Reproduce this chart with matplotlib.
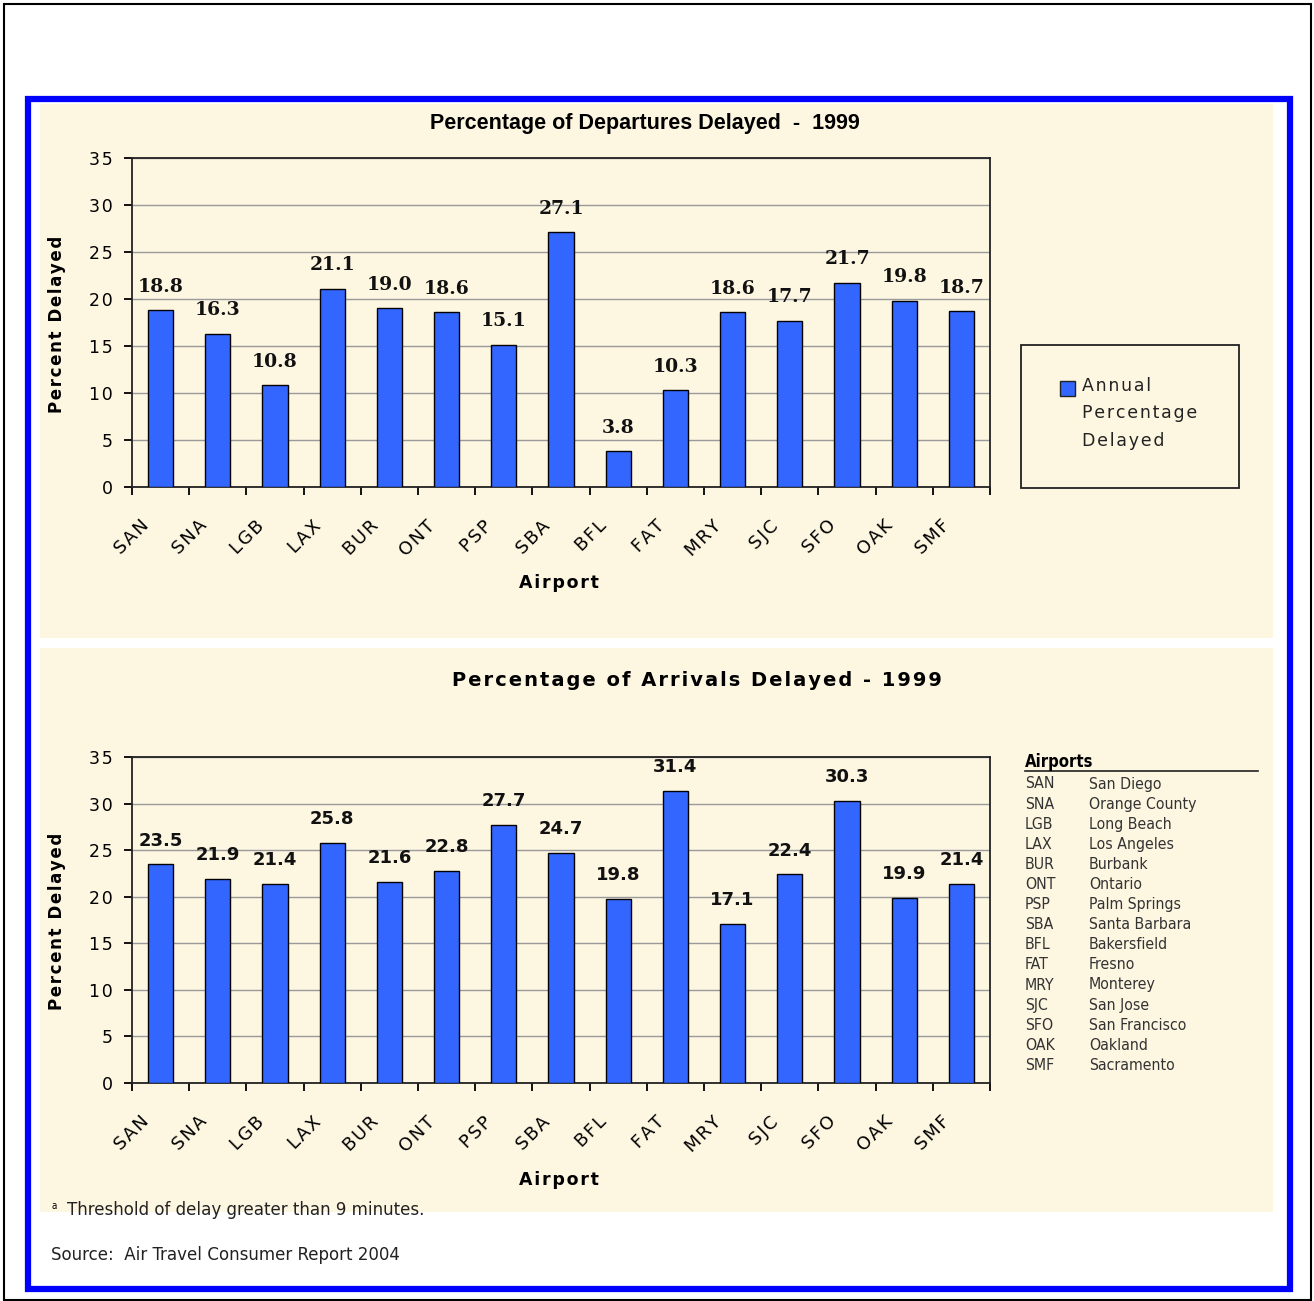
import matplotlib
matplotlib.use("Agg")
import matplotlib.pyplot as plt
from matplotlib.patches import Rectangle
from matplotlib.lines import Line2D
from matplotlib.transforms import ScaledTranslation
import numpy as np

# ---------------- data ----------------
airports = ["SAN", "SNA", "LGB", "LAX", "BUR", "ONT", "PSP", "SBA",
            "BFL", "FAT", "MRY", "SJC", "SFO", "OAK", "SMF"]
airport_names = ["San Diego", "Orange County", "Long Beach", "Los Angeles",
                 "Burbank", "Ontario", "Palm Springs", "Santa Barbara",
                 "Bakersfield", "Fresno", "Monterey", "San Jose",
                 "San Francisco", "Oakland", "Sacramento"]
departures_delayed = [18.8, 16.3, 10.8, 21.1, 19.0, 18.6, 15.1, 27.1,
                      3.8, 10.3, 18.6, 17.7, 21.7, 19.8, 18.7]
arrivals_delayed = [23.5, 21.9, 21.4, 25.8, 21.6, 22.8, 27.7, 24.7,
                    19.8, 31.4, 17.1, 22.4, 30.3, 19.9, 21.4]
y_ticks = [0, 5, 10, 15, 20, 25, 30, 35]

# ---------------- layout helpers ----------------
W, H = 1314, 1301
DPI = 100
fig = plt.figure(figsize=(W / DPI, H / DPI), dpi=DPI)
fig.patch.set_facecolor("white")

CREAM = "#FDF6E1"
BAR = "#3366FF"
BLUE = "#0000FF"
HS = "\u200a"  # hair space for letter spacing


def sp(s):
    return HS.join(s)


def fx(px):
    return px / W


def fy(py):
    return 1 - py / H


def frect(x0, y0, x1, y1, **kw):
    r = Rectangle((fx(x0), fy(y1)), fx(x1) - fx(x0), fy(y0) - fy(y1),
                  transform=fig.transFigure, **kw)
    fig.patches.append(r)
    return r


# outer black frame
frect(4, 4, 1311, 1300, facecolor="none", edgecolor="black", linewidth=1.5, zorder=-3)
# blue frame
frect(28, 99, 1290, 1289, facecolor="white", edgecolor=BLUE, linewidth=4.5, zorder=-3)
# cream panels
frect(40, 104, 1273, 638, facecolor=CREAM, edgecolor="none", zorder=-2)
frect(40, 648, 1273, 1212, facecolor=CREAM, edgecolor="none", zorder=-2)

FONT = "DejaVu Sans"


def make_axes(top, bottom, values, label_family, label_size):
    ax = fig.add_axes([fx(132), fy(bottom), fx(990) - fx(132), fy(top) - fy(bottom)])
    ax.set_facecolor(CREAM)
    x = np.arange(len(airports))
    bars = ax.bar(x, values, width=0.44, color=BAR, edgecolor="black",
                  linewidth=1.0, zorder=3)
    ax.set_xlim(-0.5, len(airports) - 0.5)
    ax.set_ylim(0, 35)
    ax.set_yticks(y_ticks)
    ax.set_yticklabels([sp(str(v)) for v in y_ticks], fontsize=12.5, family=FONT)
    ax.yaxis.grid(True, color="#9a9a9a", linewidth=1.0, zorder=1)
    ax.set_axisbelow(True)
    # ticks at category boundaries, labels at centres
    ax.set_xticks(np.arange(len(airports) + 1) - 0.5)
    ax.set_xticklabels([])
    ax.set_xticks(x, minor=True)
    ax.set_xticklabels([sp(a) for a in airports], minor=True, rotation=45,
                       ha="right", va="center", rotation_mode="anchor",
                       fontsize=13, family=FONT)
    ax.tick_params(axis="x", which="major", length=6, width=1.3, direction="out")
    ax.tick_params(axis="x", which="minor", length=0, pad=26)
    ax.tick_params(axis="y", length=6, width=1.3, direction="out", pad=8)
    off = ScaledTranslation(-14 / DPI, 0, fig.dpi_scale_trans)
    for lab in ax.get_xticklabels(minor=True):
        lab.set_transform(lab.get_transform() + off)
    for s in ax.spines.values():
        s.set_color("#222222")
        s.set_linewidth(1.3)
    for b, v in zip(bars, values):
        ax.annotate(f"{v:.1f}", (b.get_x() + b.get_width() / 2, v),
                    xytext=(0, 17), textcoords="offset points",
                    ha="center", va="center", fontsize=label_size,
                    fontweight="bold", family=label_family, color="#111111")
    return ax


ax1 = make_axes(158, 487, departures_delayed, "DejaVu Serif", 13.5)
ax2 = make_axes(757, 1083, arrivals_delayed, FONT, 13)

# titles
fig.text(fx(645), fy(123), "Percentage of Departures Delayed  -  1999",
         ha="center", va="center", fontsize=15.5, fontweight="bold",
         family="Liberation Sans")
fig.text(fx(697), fy(681), sp("Percentage of Arrivals Delayed - 1999"),
         ha="center", va="center", fontsize=14, fontweight="bold",
         family=FONT)

# axis labels
for yc in (324, 921):
    fig.text(fx(57), fy(yc), sp("Percent Delayed"), rotation=90, ha="center",
             va="center", fontsize=12, fontweight="bold", family=FONT)
for yc in (583, 1180):
    fig.text(fx(559), fy(yc), sp("Airport"), ha="center", va="center",
             fontsize=12.5, fontweight="bold", family=FONT)

# legend for top chart
frect(1021, 345, 1239, 488, facecolor=CREAM, edgecolor="#222222", linewidth=1.3, zorder=1)
frect(1060, 381, 1075, 396, facecolor=BAR, edgecolor="#222222", linewidth=1.0, zorder=2)
for i, t in enumerate(["Annual", "Percentage", "Delayed"]):
    fig.text(fx(1082), fy(386 + 27.5 * i), sp(t), ha="left", va="center",
             fontsize=12.5, family=FONT, color="#222222")

# airport key for bottom chart
fig.text(fx(1025), fy(762), "Airports", ha="left", va="center",
         fontsize=12, fontweight="bold", family=FONT, stretch="condensed")
fig.lines.append(Line2D([fx(1025), fx(1258)], [fy(771), fy(771)],
                        transform=fig.transFigure, color="#222222", linewidth=1.2))
for i, (code, name) in enumerate(zip(airports, airport_names)):
    yy = fy(784 + 20.1 * i)
    fig.text(fx(1025), yy, code, ha="left", va="center", fontsize=11.3,
             family=FONT, stretch="condensed", color="#333333")
    fig.text(fx(1089), yy, name, ha="left", va="center", fontsize=11.3,
             family=FONT, stretch="condensed", color="#333333")

# footnotes
fig.text(fx(52), fy(1206), "a", ha="left", va="center", fontsize=7,
         family=FONT, stretch="condensed")
fig.text(fx(67), fy(1210), "Threshold of delay greater than 9 minutes.",
         ha="left", va="center", fontsize=13.3, family=FONT,
         stretch="condensed", color="#222222")
fig.text(fx(51), fy(1255), "Source:  Air Travel Consumer Report 2004",
         ha="left", va="center", fontsize=13.3, family=FONT,
         stretch="condensed", color="#222222")

fig.savefig("out.png", dpi=DPI, facecolor="white")
